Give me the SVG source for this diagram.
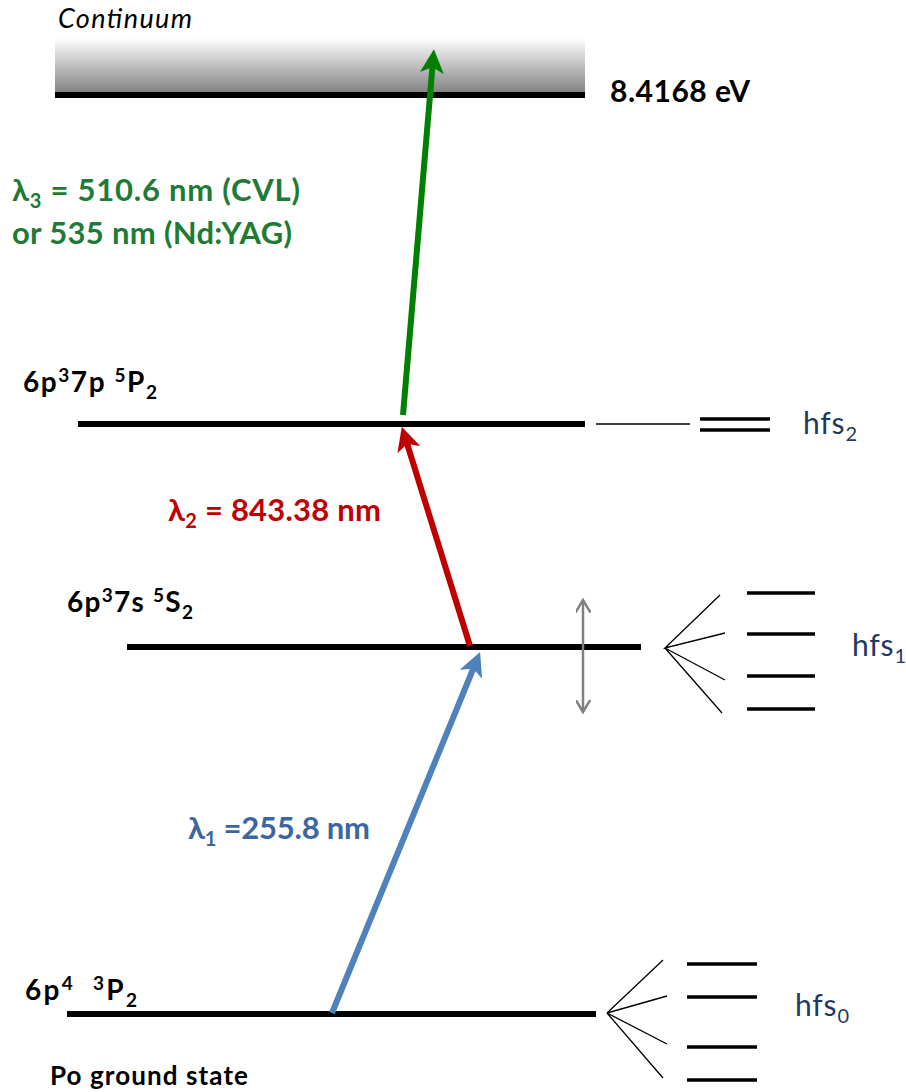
<svg xmlns="http://www.w3.org/2000/svg" width="906" height="1092" viewBox="0 0 906 1092">
<style>
text{font-family:Lato,"Open Sans","Liberation Sans",sans-serif}
.lbl{font-weight:bold;fill:#000}
.hfs{font-size:30px;fill:#1f3864}
.lev{stroke:#000;stroke-width:6}
.thin{stroke:#000;stroke-width:1.3;fill:none}
.sub{stroke:#000;stroke-width:3.5}
.wl{font-weight:bold;font-size:31px}
</style>
<defs>
<linearGradient id="cg" x1="0" y1="0" x2="0" y2="1">
<stop offset="0" stop-color="#ffffff"/>
<stop offset="1" stop-color="#7f7f7f"/>
</linearGradient>
<marker id="ag" markerWidth="4" markerHeight="4" refX="2.2" refY="2" orient="auto" markerUnits="strokeWidth"><path d="M0,0 L4,2 L0,4 L1,2 Z" fill="#008000"/></marker>
<marker id="ar" markerWidth="4" markerHeight="4" refX="2.2" refY="2" orient="auto" markerUnits="strokeWidth"><path d="M0,0 L4,2 L0,4 L1,2 Z" fill="#c00000"/></marker>
<marker id="ab" markerWidth="4" markerHeight="4" refX="2.2" refY="2" orient="auto" markerUnits="strokeWidth"><path d="M0,0 L4,2 L0,4 L1,2 Z" fill="#4f81bd"/></marker>
<marker id="ay" markerWidth="6" markerHeight="6" refX="5" refY="3" orient="auto-start-reverse" markerUnits="strokeWidth"><path d="M0,0 L5,3 L0,6" fill="none" stroke="#808080" stroke-width="1"/></marker>
</defs>

<g id="continuum">
<rect x="55" y="38" width="530" height="56" fill="url(#cg)"/>
<line class="lev" x1="55" y1="95" x2="585" y2="95"/>
<text x="58" y="28" font-style="italic" font-size="27" textLength="134" lengthAdjust="spacing">Continuum</text>
<text class="lbl" x="610" y="102" font-size="30" textLength="140" lengthAdjust="spacing">8.4168 eV</text>
</g>

<g id="level-5P2">
<line class="lev" x1="78" y1="424" x2="585" y2="424"/>
<text class="lbl" x="23" y="392" font-size="28" textLength="134" lengthAdjust="spacing">6p<tspan dy="-10" font-size="19">3</tspan><tspan dy="10">7p </tspan><tspan dy="-10" font-size="19">5</tspan><tspan dy="10">P</tspan><tspan dy="7" font-size="19">2</tspan></text>
<line class="thin" x1="596" y1="424" x2="690" y2="424"/>
<line class="sub" x1="700" y1="419" x2="770" y2="419"/>
<line class="sub" x1="700" y1="430" x2="770" y2="430"/>
<text class="hfs" x="803" y="434" textLength="54" lengthAdjust="spacing">hfs<tspan dy="7" font-size="20">2</tspan></text>
</g>

<g id="level-5S2">
<line class="lev" x1="127" y1="647" x2="641" y2="647"/>
<text class="lbl" x="67" y="612" font-size="28" textLength="126" lengthAdjust="spacing">6p<tspan dy="-10" font-size="19">3</tspan><tspan dy="10">7s </tspan><tspan dy="-10" font-size="19">5</tspan><tspan dy="10">S</tspan><tspan dy="7" font-size="19">2</tspan></text>
<line x1="583" y1="600" x2="583" y2="712" stroke="#808080" stroke-width="2.5" marker-start="url(#ay)" marker-end="url(#ay)"/>
<path class="thin" d="M720,595 L665,648 L725,633 M665,648 L725,680 M665,648 L722,713"/>
<line class="sub" x1="747" y1="593" x2="815" y2="593"/>
<line class="sub" x1="747" y1="634" x2="815" y2="634"/>
<line class="sub" x1="747" y1="676" x2="815" y2="676"/>
<line class="sub" x1="747" y1="709" x2="815" y2="709"/>
<text class="hfs" x="852" y="656" textLength="54" lengthAdjust="spacing">hfs<tspan dy="7" font-size="20">1</tspan></text>
</g>

<g id="level-ground">
<line class="lev" x1="67" y1="1014" x2="596" y2="1014"/>
<text class="lbl" x="25" y="1000" font-size="28" textLength="112" lengthAdjust="spacing">6p<tspan dy="-10" font-size="19">4</tspan><tspan dy="10" xml:space="preserve">  </tspan><tspan dy="-10" font-size="19">3</tspan><tspan dy="10">P</tspan><tspan dy="7" font-size="19">2</tspan></text>
<text class="lbl" x="50" y="1085" font-size="26" textLength="198" lengthAdjust="spacing">Po ground state</text>
<path class="thin" d="M663,960 L607,1013 L667,996 M607,1013 L667,1044 M607,1013 L663,1078"/>
<line class="sub" x1="687" y1="964" x2="757" y2="964"/>
<line class="sub" x1="687" y1="997" x2="757" y2="997"/>
<line class="sub" x1="687" y1="1047" x2="757" y2="1047"/>
<line class="sub" x1="687" y1="1080" x2="757" y2="1080"/>
<text class="hfs" x="795" y="1016" textLength="54" lengthAdjust="spacing">hfs<tspan dy="7" font-size="20">0</tspan></text>
</g>

<g id="connectors">
<line x1="403" y1="415" x2="433" y2="60" stroke="#008000" stroke-width="6" marker-end="url(#ag)"/>
<line x1="470" y1="646" x2="405" y2="437" stroke="#c00000" stroke-width="6" marker-end="url(#ar)"/>
<line x1="332" y1="1013" x2="476" y2="662" stroke="#4f81bd" stroke-width="6" marker-end="url(#ab)"/>
</g>

<g id="labels">
<text class="wl" x="12" y="201" fill="#1e7b34" textLength="288" lengthAdjust="spacing">λ<tspan dy="7" font-size="20">3</tspan><tspan dy="-7"> = 510.6 nm (CVL)</tspan></text>
<text class="wl" x="12" y="244" fill="#1e7b34" textLength="280" lengthAdjust="spacing">or 535 nm (Nd:YAG)</text>
<text class="wl" x="168" y="521" fill="#c00000" textLength="213" lengthAdjust="spacing">λ<tspan dy="7" font-size="20">2</tspan><tspan dy="-7"> = 843.38 nm</tspan></text>
<text class="wl" x="188" y="839" fill="#3a67a0" textLength="182" lengthAdjust="spacing">λ<tspan dy="7" font-size="20">1</tspan><tspan dy="-7"> =255.8 nm</tspan></text>
</g>
</svg>
